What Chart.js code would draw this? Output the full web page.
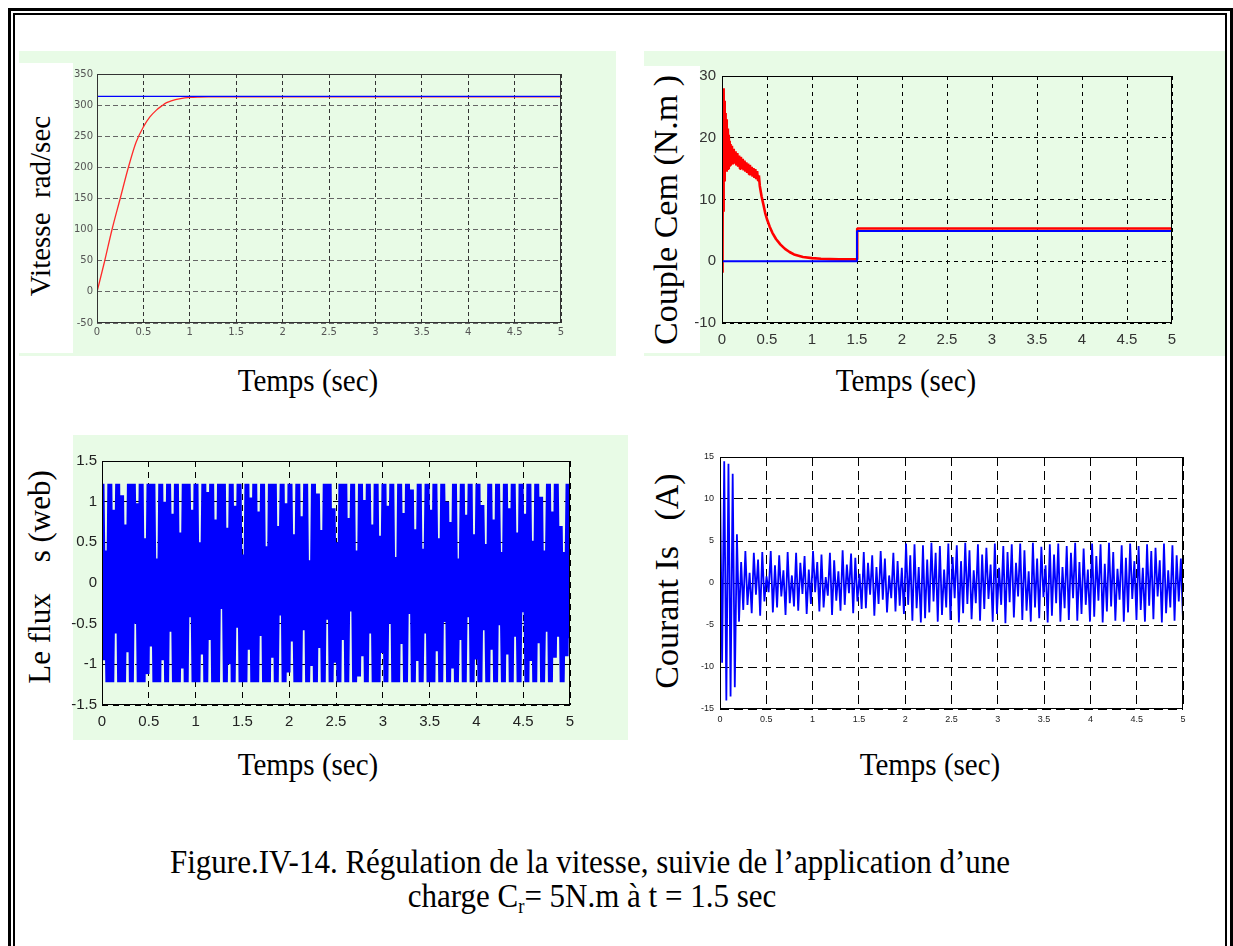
<!DOCTYPE html>
<html>
<head>
<meta charset="utf-8">
<script src="https://cdn.jsdelivr.net/npm/chart.js@4.4.1/dist/chart.umd.min.js"></script>
<style>
  body { margin: 0; width: 1233px; height: 946px; overflow: hidden; background: #fff; position: relative;
         font-family: "Liberation Serif", "Times New Roman", serif; color: #000; }
  .abs { position: absolute; }
  .frame-out { left: 8px; top: 8px; width: 1225px; height: 1000px; border: 3px solid #000; box-sizing: border-box; z-index: 5; }
  .frame-in { left: 13px; top: 13px; width: 1214px; height: 1000px; border: 2px solid #000; box-sizing: border-box; z-index: 5; }
  .green { background: #e8fbe6; }
  .white { background: #fff; }
  .ylab { font-size: 29px; white-space: pre; transform: translate(-50%, -50%) rotate(-90deg); z-index: 3; }
  .xlab { font-size: 29px; white-space: pre; transform: translate(-50%, -50%) scale(1, 1.08); }
  .cap { font-size: 31px; white-space: pre; transform: translate(-50%, -50%) scale(1, 1.12); }
  canvas { position: absolute; z-index: 2; }
</style>
</head>
<body>
<div class="abs frame-out"></div>
<div class="abs frame-in"></div>

<!-- fonds verts des figures -->
<div class="abs green" style="left:19px;top:51px;width:597px;height:305px"></div>
<div class="abs white" style="left:19px;top:63px;width:54px;height:290px"></div>
<div class="abs green" style="left:644px;top:51px;width:582px;height:305px"></div>
<div class="abs white" style="left:644px;top:66px;width:56px;height:287px"></div>
<div class="abs green" style="left:73px;top:435px;width:555px;height:305px"></div>

<canvas id="c-vitesse" width="500" height="285" style="left:70px;top:62px"></canvas>
<canvas id="c-couple" width="490" height="295" style="left:695px;top:61px"></canvas>
<canvas id="c-flux" width="520" height="290" style="left:64px;top:447px"></canvas>
<canvas id="c-courant" width="505" height="290" style="left:690px;top:445px"></canvas>

<div class="abs ylab" style="left:40px;top:206px">Vitesse  rad/sec</div>
<div class="abs ylab" style="left:666px;top:210px;font-size:34px">Couple Cem (N.m )</div>
<div class="abs ylab" style="left:40px;top:577px;font-size:31px">Le flux    s (web)</div>
<div class="abs ylab" style="left:667px;top:581px;font-size:34px">Courant Is   (A)</div>

<div class="abs xlab" style="left:308px;top:381px">Temps (sec)</div>
<div class="abs xlab" style="left:906px;top:381px">Temps (sec)</div>
<div class="abs xlab" style="left:308px;top:765px">Temps (sec)</div>
<div class="abs xlab" style="left:930px;top:765px">Temps (sec)</div>

<div class="abs cap" style="left:590px;top:862px">Figure.IV-14. Régulation de la vitesse, suivie de l’application d’une</div>
<div class="abs cap" style="left:592px;top:897px">charge C<span style="font-size:60%;vertical-align:-0.3em">r</span>= 5N.m à t = 1.5 sec</div>

<script>
// ---- données ----
const timeTicks = [0, 0.5, 1, 1.5, 2, 2.5, 3, 3.5, 4, 4.5, 5];

// vitesse (rad/sec)
const speedRefTime = [0, 5];
const speedRef = [314, 314];
const speedTime = [0, 0.08, 0.16, 0.25, 0.34, 0.42, 0.5, 0.57, 0.64, 0.7, 0.75, 0.8, 0.9, 1.0, 1.1, 1.2, 1.5, 2, 3, 4, 5];
const speedMeasured = [0, 48, 99, 150, 201, 240, 265, 281, 292, 299, 304, 307, 310.5, 312.3, 313, 313.3, 313.4, 313.4, 313.4, 313.4, 313.4];

// couple (N.m)
const torqueRefTime = [0, 1.5, 1.5, 5];
const torqueLoad = [0, 0, 4.9, 4.9];
const torqueTime = [
  0, 0.004, 0.008, 0.012, 0.016, 0.02, 0.024, 0.028, 0.032, 0.036,
  0.04, 0.045, 0.05, 0.055, 0.06, 0.065, 0.07, 0.075, 0.08, 0.085,
  0.09, 0.095, 0.1, 0.11, 0.12, 0.13, 0.14, 0.15, 0.16, 0.17,
  0.18, 0.19, 0.2, 0.21, 0.22, 0.23, 0.24, 0.25, 0.26, 0.27,
  0.28, 0.29, 0.3, 0.31, 0.32, 0.33, 0.34, 0.35, 0.36, 0.37,
  0.38, 0.39, 0.4, 0.41, 0.42, 0.44, 0.46, 0.48, 0.5, 0.53,
  0.56, 0.6, 0.65, 0.7, 0.75, 0.8, 0.9, 1.0, 1.1, 1.2,
  1.3, 1.4, 1.5, 1.5, 1.505, 5
];
const torqueEm = [
  -1.8, 11, 2, 27.5, 8, 28, 13, 26, 14, 24,
  15, 23, 14.5, 22, 15.5, 21.5, 15, 20.5, 16, 19.5,
  15.5, 19, 15.8, 18.7, 15.7, 18.2, 15.8, 17.8, 15.5, 17.5,
  15.3, 17.1, 15, 16.9, 14.9, 16.6, 14.7, 16.3, 14.5, 16,
  14.3, 15.8, 14.1, 15.6, 13.9, 15.3, 13.7, 15.1, 13.5, 14.9,
  13.3, 14.6, 13.1, 13.9, 12.2, 10.5, 9.2, 7.8, 6.8, 5.6,
  4.6, 3.6, 2.7, 2.0, 1.5, 1.1, 0.7, 0.5, 0.4, 0.35,
  0.3, 0.3, 0.3, 3.2, 5.3, 5.3
];

// flux statorique (web) : crêtes successives
const fluxPeaks = [
  1.22, -0.95, 0.4, -1.22, 1.22, -1.22, 0.9, -0.62, 1.22, -1.22, 1.08, -1.22, 0.72, -0.85, 1.22, -1.22, 1.22, -0.5, 0.98, -1.22,
  1.22, -1.22, 0.55, -1.12, 1.22, -0.78, 1.22, -1.22, 0.3, -1.22, 1.22, -0.95, 1.0, -1.22, 1.22, -0.6, 0.85, -1.22, 1.22, -1.22,
  0.62, -1.05, 1.22, -1.22, 1.22, -0.42, 0.9, -1.22, 1.22, -1.22, 0.5, -0.88, 1.22, -1.22, 1.12, -0.7, 1.22, -1.22, 0.78, -1.22,
  1.22, -0.32, 1.22, -1.22, 0.68, -1.0, 1.22, -1.22, 0.95, -0.55, 1.22, -1.22, 0.35, -1.22, 1.22, -0.82, 1.05, -1.22, 1.22, -1.22,
  0.88, -0.65, 1.22, -1.22, 0.45, -1.22, 1.22, -0.92, 1.22, -1.22, 0.7, -0.4, 1.22, -1.22, 0.98, -1.1, 1.22, -0.72, 0.6, -1.22,
  1.22, -1.22, 0.82, -0.58, 1.22, -1.22, 0.28, -1.02, 1.22, -1.22, 1.1, -0.8, 0.65, -1.22, 1.22, -0.45, 1.22, -1.22, 0.92, -0.98,
  0.5, -1.22, 1.22, -0.7, 1.22, -1.22, 0.8, -0.35, 1.22, -1.22, 0.4, -1.15, 1.22, -0.9, 1.02, -1.22, 1.22, -0.62, 0.72, -1.22,
  1.22, -1.22, 0.58, -0.86, 1.22, -1.22, 0.95, -0.5, 1.22, -1.22, 0.32, -1.22, 1.22, -0.75, 0.86, -1.22, 1.22, -0.38, 1.15, -1.22,
  0.66, -0.96, 1.22, -1.22, 0.42, -0.62, 1.22, -1.22, 0.9, -1.22, 1.22, -0.84, 0.55, -1.22, 1.22, -0.48, 1.0, -1.22, 0.75, -1.05,
  1.22, -1.22, 0.3, -0.7, 1.22, -1.22, 0.84, -0.42, 1.22, -1.22, 0.6, -0.94, 1.22, -1.22, 0.96, -0.58, 0.48, -1.22, 1.22, -0.82,
  0.78, -1.22, 1.22, -0.52, 0.38, -1.22, 1.22, -0.88, 0.92, -1.22, 1.22, -0.66, 0.62, -1.22, 1.22, -0.36, 0.85, -1.22, 1.22, -0.96,
  0.52, -1.22, 1.22, -0.74, 1.06, -1.22, 0.4, -0.6, 1.22, -1.22, 0.88, -0.92, 1.22, -0.66, 0.7, -1.22, 0.38, -0.9, 1.22, -0.68
];

// courant statorique (A) : crêtes successives
const currentPeaks = [
  12.5, -9.5, 14.5, -14, 14.2, -13.5, 13, -12.4, 5.8, -4.6, 2.5, -3.2, 3.8, -2.6, 1.2, -3.6, 3.6, -1.4, 2.8, -3.9,
  3.7, -2.2, 0.8, -1.1, 3.8, -3.5, 2.1, -2.9, 3.3, -1.6, 1.5, -3.8, 3.7, -2.4, 0.9, -2.8, 3.6, -3.3, 2.4, -1.3,
  3.2, -3.7, 1.6, -2.5, 3.8, -1.1, 2.5, -3.4, 3.4, -2.9, 0.7, -1.5, 3.6, -3.8, 2.7, -2.1, 1.4, -3.3, 3.9, -2.6,
  2.2, -1.2, 3.5, -3.6, 3.0, -2.2, 1.1, -3.1, 3.7, -3.0, 2.4, -1.4, 3.3, -3.9, 1.9, -2.5, 3.8, -2.0, 2.9, -3.5,
  0.9, -1.8, 3.6, -3.4, 2.6, -2.7, 1.8, -3.7, 4.7, -2.6, 3.3, -4.5, 4.6, -3.0, 1.9, -4.7, 4.5, -4.2, 2.8, -3.5,
  4.8, -2.2, 3.6, -4.6, 4.4, -3.8, 1.6, -2.9, 4.7, -4.4, 3.1, -1.8, 4.5, -4.7, 2.6, -3.6, 4.8, -2.5, 3.9, -4.3,
  1.5, -2.4, 4.6, -4.5, 3.4, -3.1, 4.2, -1.9, 2.2, -4.6, 4.7, -3.7, 1.8, -2.6, 4.4, -4.8, 3.7, -2.3, 4.6, -4.1,
  2.4, -1.6, 4.7, -4.4, 3.9, -3.3, 1.4, -4.6, 4.8, -2.9, 2.9, -4.2, 4.3, -1.7, 2.1, -4.7, 4.6, -3.9, 3.4, -2.4,
  4.7, -4.6, 1.9, -3.0, 4.4, -4.4, 3.6, -1.8, 4.8, -4.5, 2.5, -3.7, 4.1, -2.6, 1.6, -4.6, 4.7, -4.0, 3.2, -2.1,
  4.6, -4.7, 2.3, -3.4, 4.8, -2.8, 3.7, -4.5, 1.7, -2.0, 4.5, -4.6, 3.0, -3.5, 4.7, -1.9, 2.6, -4.4, 4.4, -3.2,
  1.8, -4.6, 4.6, -2.7, 3.8, -4.3, 4.2, -1.6, 2.7, -4.7, 4.7, -3.6, 1.5, -2.9, 4.5, -4.5, 3.3, -2.2, 2.9, -4.4
];

// ---- helpers ----
const T_END = 5;
function zip(xs, ys) {
  return xs.map((x, i) => ({ x, y: ys[i] }));
}
// échantillons régulièrement répartis sur [0, 5] s
function sampled(values) {
  const n = values.length;
  return values.map((v, i) => ({ x: (T_END * i) / (n - 1), y: v }));
}
const fmt = (v) => String(Math.abs(v) < 1e-9 ? 0 : +v.toFixed(2));

// cadre complet autour de la zone de tracé (comme sous Matlab)
const plotBox = {
  id: "plotBox",
  afterDatasetsDraw(chart, args, opts) {
    const { ctx, chartArea: a } = chart;
    ctx.save();
    ctx.strokeStyle = opts.color || "#000";
    ctx.lineWidth = 1;
    ctx.strokeRect(a.left + 0.5, a.top + 0.5, a.right - a.left - 1, a.bottom - a.top - 1);
    ctx.restore();
  },
};
Chart.register(plotBox);

function xAxis(o) {
  return {
    type: "linear", min: 0, max: 5,
    afterBuildTicks: (s) => { s.ticks = timeTicks.map((v) => ({ value: v })); },
    afterFit: (s) => { s.height = o.h; },
    ticks: { autoSkip: false, maxRotation: 0, padding: o.pad, color: o.color, font: o.font, callback: fmt },
    grid: { color: o.gridColor, lineWidth: 1, drawTicks: false },
    border: { display: false, dash: o.dash },
  };
}
function yAxis(o) {
  return {
    type: "linear", min: o.min, max: o.max,
    afterFit: (s) => { s.width = o.w; },
    ticks: { stepSize: o.step, autoSkip: false, padding: o.pad, color: o.color, font: o.font, callback: fmt },
    grid: { color: o.gridColor, lineWidth: 1, drawTicks: false },
    border: { display: false, dash: o.dash },
  };
}
function baseOptions(padding, scales, boxColor) {
  return {
    responsive: false,
    animation: false,
    devicePixelRatio: 1,
    layout: { padding },
    events: [],
    elements: { point: { radius: 0 }, line: { borderJoinStyle: "bevel", fill: false } },
    plugins: { legend: { display: false }, tooltip: { enabled: false }, plotBox: { color: boxColor } },
    scales,
  };
}

// 1) vitesse
const smallFont = { family: "DejaVu Sans, Verdana, sans-serif", size: 10 };
new Chart(document.getElementById("c-vitesse"), {
  type: "line",
  data: {
    datasets: [
      { data: zip(speedRefTime, speedRef), borderColor: "#0000ff", borderWidth: 1.3, order: 0 },
      { data: zip(speedTime, speedMeasured), borderColor: "#ff2a2a", borderWidth: 1.3,
        cubicInterpolationMode: "monotone", order: 1 },
    ],
  },
  options: baseOptions({ top: 12, right: 9, left: 0, bottom: 0 }, {
    x: xAxis({ h: 24, pad: 3, color: "#555", font: smallFont, gridColor: "#333", dash: [4, 3] }),
    y: yAxis({ min: -50, max: 350, step: 50, w: 27, pad: 4, color: "#555", font: smallFont, gridColor: "#666", dash: [5, 3] }),
  }, "#333"),
});

// 2) couple électromagnétique
const narrowFont = { family: "Liberation Sans Narrow, Arial Narrow, Liberation Sans, sans-serif", size: 15 };
new Chart(document.getElementById("c-couple"), {
  type: "line",
  data: {
    datasets: [
      { data: zip(torqueRefTime, torqueLoad), borderColor: "#0000ff", borderWidth: 2, order: 0 },
      { data: zip(torqueTime, torqueEm), borderColor: "#ff0000", borderWidth: 2.6, order: 1 },
    ],
  },
  options: baseOptions({ top: 12, right: 13, left: 0, bottom: 0 }, {
    x: xAxis({ h: 33, pad: 8, color: "#333", font: narrowFont, gridColor: "#000", dash: [4, 4] }),
    y: yAxis({ min: -10, max: 30, step: 10, w: 27, pad: 6, color: "#333", font: narrowFont, gridColor: "#000", dash: [4, 4] }),
  }, "#000"),
});

// 3) flux statorique
new Chart(document.getElementById("c-flux"), {
  type: "line",
  data: {
    datasets: [{ data: sampled(fluxPeaks), borderColor: "#0000ff", borderWidth: 5 }],
  },
  options: baseOptions({ top: 12, right: 14, left: 0, bottom: 0 }, {
    x: xAxis({ h: 32, pad: 8, color: "#222", font: narrowFont, gridColor: "#000", dash: [6, 5] }),
    y: yAxis({ min: -1.5, max: 1.5, step: 0.5, w: 38, pad: 5, color: "#222", font: narrowFont, gridColor: "#000", dash: [6, 5] }),
  }, "#000"),
});

// 4) courant statorique
const tinyFont = { family: "Liberation Sans, Arial, sans-serif", size: 9 };
new Chart(document.getElementById("c-courant"), {
  type: "line",
  data: {
    datasets: [{ data: sampled(currentPeaks), borderColor: "#0000ff", borderWidth: 1.8 }],
  },
  options: baseOptions({ top: 12, right: 12, left: 0, bottom: 0 }, {
    x: xAxis({ h: 26, pad: 5, color: "#222", font: tinyFont, gridColor: "#000", dash: [9, 5] }),
    y: yAxis({ min: -15, max: 15, step: 5, w: 30, pad: 6, color: "#222", font: tinyFont, gridColor: "#000", dash: [9, 5] }),
  }, "#000"),
});
</script>
</body>
</html>
